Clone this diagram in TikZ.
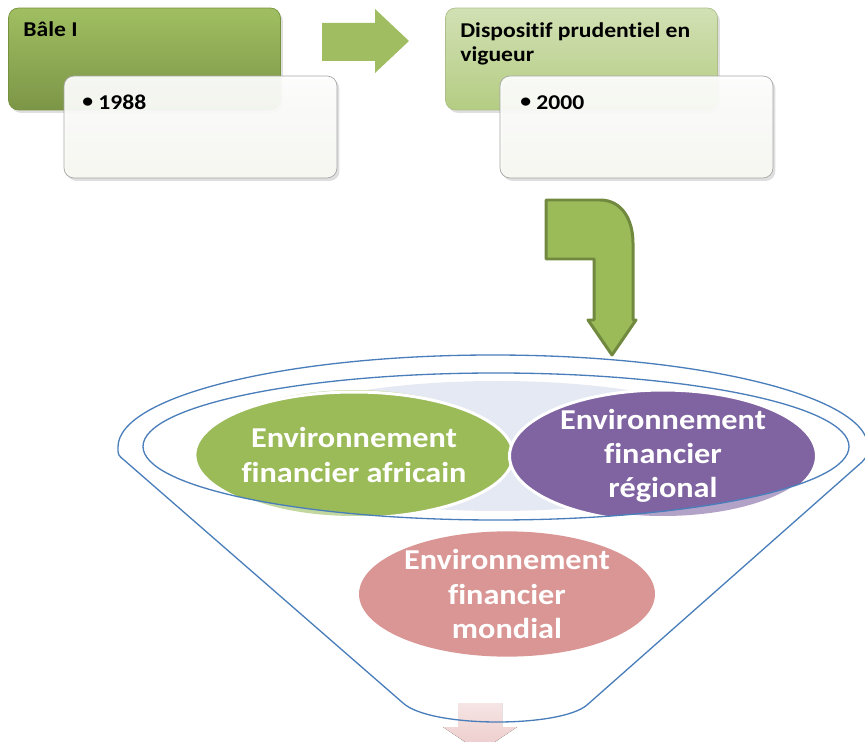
\documentclass[tikz,border=0pt]{standalone}
\usepackage{fontspec}
\setmainfont{Carlito}[FakeStretch=1.12,Ligatures={TeX,NoCommon}]
\usetikzlibrary{shapes.geometric,shadows}
\definecolor{blgreen}{HTML}{9BBB59}
\definecolor{bldark}{HTML}{76923C}
\definecolor{bledge}{HTML}{71893F}
\definecolor{blpale}{HTML}{C2D79E}
\definecolor{blpurple}{HTML}{8064A2}
\definecolor{blpurpale}{HTML}{B3A2C7}
\definecolor{blpink}{HTML}{D99694}
\definecolor{blmist}{HTML}{E4E9F3}
\definecolor{blline}{HTML}{4A7EBB}
\newcommand{\blbullet}{{\fontsize{11}{11}\selectfont\raisebox{1.2pt}{•}}\ }
\begin{document}
\begin{tikzpicture}[x=0.02cm,y=-0.02cm]
        \tikzset{
        bl box/.style={rectangle,rounded corners=0.2cm,minimum width=5.44cm,minimum height=2.04cm,inner sep=0,
          drop shadow={opacity=0.25,shadow xshift=0.05cm,shadow yshift=-0.06cm}},
        date box/.style={bl box,minimum width=5.46cm,draw=black!35,top color=white,bottom color=blgreen!8,fill opacity=0.92},
        box text/.style={anchor=base west,inner sep=0,align=left,font=\bfseries\fontsize{12}{14.2}\selectfont},
        env ell/.style={ellipse,inner sep=0,minimum width=6.12cm,minimum height=2.52cm,align=center,text=white,
          font=\bfseries\fontsize{16.4}{19.4}\selectfont},
        funnel line/.style={draw=blline,line width=0.75pt}
        }
        \useasboundingbox (0,0) rectangle (865,742);

        \node[bl box,draw=bldark,top color=blgreen!95!white,bottom color=blgreen!80!black] (1) at (144.5,59) {};
        \node[date box] (2) at (200.5,127) {};
        \node[bl box,draw=bldark!60,top color=blgreen!45!white,bottom color=blgreen!75!white] (3) at (581.5,59) {};
        \node[date box] (4) at (636.5,127) {};
        \node[box text] (t1) at (23,37) {Bâle I};
        \node[box text] (t2) at (82,110) {\blbullet 1988};
        \node[box text] (t3) at (460,62) {Dispositif prudentiel en\\vigueur};
        \node[box text] (t4) at (520,110) {\blbullet 2000};

        \fill[blgreen!95!white] (322,23) -- (375,23) -- (375,9) -- (409,41) -- (375,73) -- (375,61) -- (322,61) -- cycle;
        \draw[fill=blgreen,draw=bledge,line width=1.7pt,line join=round]
          (546,200) -- (600,200) .. controls (622,200) and (633,220) .. (633,243) -- (633,320) -- (636,320)
          -- (612,355) -- (588,320) -- (594,320) -- (594,259) -- (546,259) -- cycle;

        \fill[blmist] (497,446) ellipse[x radius=258,y radius=65];
        \fill[blpale] (354,453) ellipse[x radius=152,y radius=63];
        \fill[blpurpale] (663,453) ellipse[x radius=153,y radius=63];
        \begin{scope}
          \clip (496,446.5) ellipse[x radius=353,y radius=73.5];
          \node[env ell,fill=blgreen,draw=white,line width=1.7pt] (afr) at (354,455) {Environnement\\financier africain};
          \node[env ell,fill=blpurple,draw=white,line width=1.7pt,minimum width=6.14cm] (reg) at (663,456) {Environnement\\financier\\régional};
        \end{scope}
        \node[env ell,fill=blpink,minimum width=5.92cm,minimum height=2.48cm] (mond) at (507,594) {Environnement\\financier\\mondial};

        \fill[top color=blpink!25!white,bottom color=blpink!50!white]
          (458,703) -- (502,703) -- (502,727) -- (517,727) -- (480,752) -- (443,727) -- (458,727) -- cycle;
        \path[funnel line] (496,446.5) ellipse[x radius=353,y radius=73.5];
        \path[funnel line] (587,705) .. controls (560,728) and (430,728) .. (403,703) -- (124,460)
          .. controls (118,455) .. (118,447) arc[start angle=180,end angle=360,x radius=375,y radius=92]
          .. controls (868,455) .. (862,462) -- cycle;
    \end{tikzpicture}
\end{document}
